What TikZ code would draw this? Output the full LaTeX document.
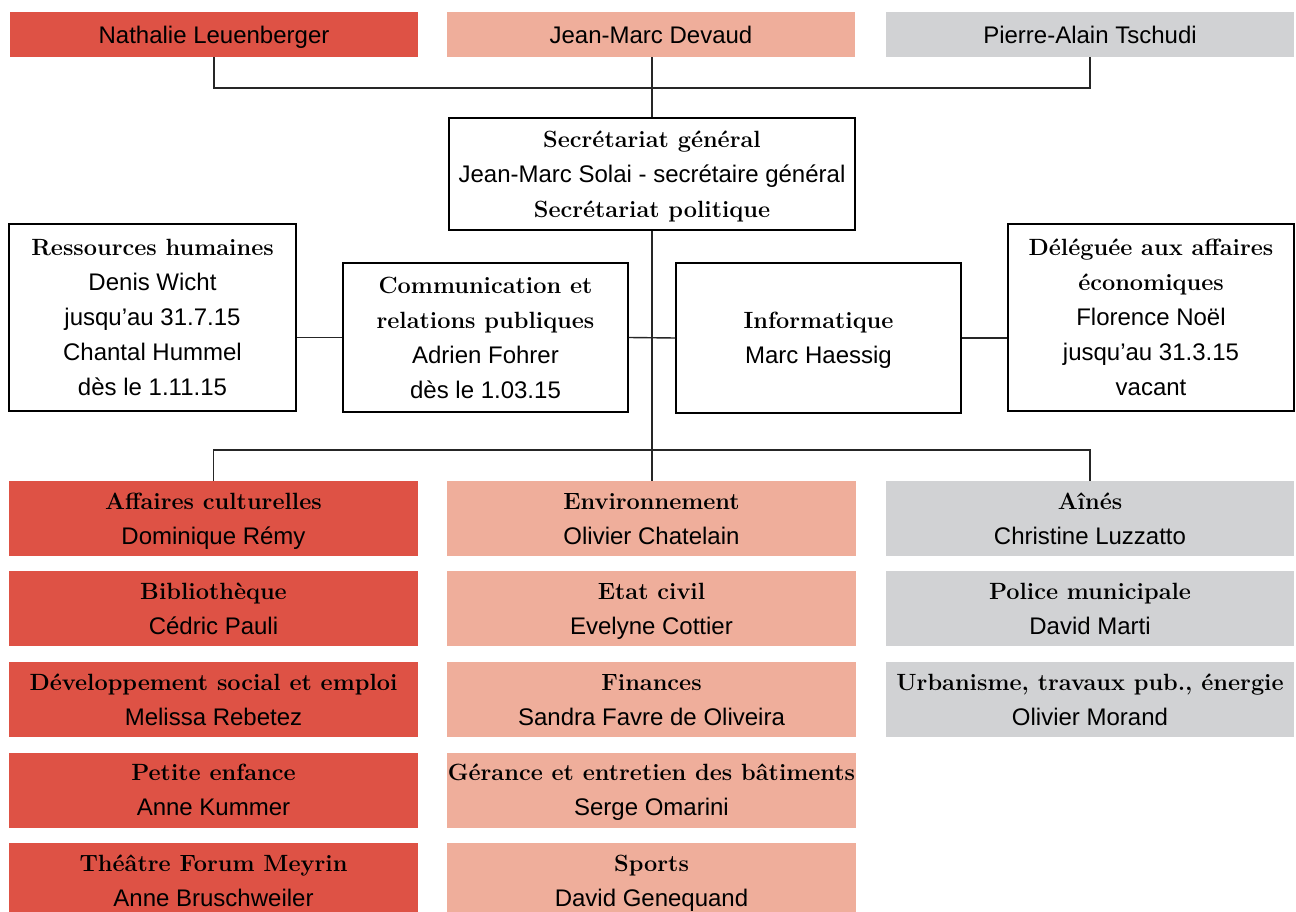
\documentclass[tikz,border=0pt]{standalone}
\usepackage{fontspec}
\setsansfont{Liberation Sans}
\definecolor{cred}{RGB}{222,82,69}
\definecolor{cpink}{RGB}{239,174,155}
\definecolor{cgrey}{RGB}{209,210,212}
\newcommand\boxtitle[1]{{\rmfamily\bfseries\fontsize{23.5}{35}\selectfont #1}}
\tikzset{
  base/.style={align=center, inner sep=0pt, font=\sffamily\fontsize{24}{35}\selectfont, text depth=0pt},
  wbox/.style={base, draw, line width=1.4pt, fill=white},
  rbox/.style={base, fill=cred, minimum width=409pt, minimum height=75pt},
  pbox/.style={base, fill=cpink, minimum width=409pt, minimum height=75pt},
  gbox/.style={base, fill=cgrey, minimum width=408pt, minimum height=75pt},
  conn/.style={line width=1.4pt, black!85}
}
\begin{document}
\begin{tikzpicture}[x=1pt,y=-1pt]
\useasboundingbox[fill=white] (0,0) rectangle (1296,912);
% top row
\node[rbox, minimum width=408pt, minimum height=45pt] (t1) at (214,34.5) {Nathalie Leuenberger};
\node[pbox, minimum width=408pt, minimum height=45pt] (t2) at (651,34.5) {Jean-Marc Devaud};
\node[gbox, minimum width=408pt, minimum height=45pt] (t3) at (1090,34.5) {Pierre-Alain Tschudi};
% secretariat
\node[wbox, minimum width=406pt, minimum height=112pt] (sec) at (652,174) {\boxtitle{Secrétariat général}\\Jean-Marc Solai - secrétaire général\\\boxtitle{Secrétariat politique}};
% staff
\node[wbox, minimum width=287pt, minimum height=187pt] (rh) at (152.5,317.5) {\boxtitle{Ressources humaines}\\Denis Wicht\\jusqu’au 31.7.15\\Chantal Hummel\\dès le 1.11.15};
\node[wbox, minimum width=285pt, minimum height=149pt] (com) at (485.5,337.5) {\boxtitle{Communication et}\\\boxtitle{relations publiques}\\Adrien Fohrer\\dès le 1.03.15};
\node[wbox, minimum width=285pt, minimum height=150pt] (inf) at (818.5,338) {\boxtitle{Informatique}\\Marc Haessig};
\node[wbox, minimum width=286pt, minimum height=187pt] (del) at (1151,317.5) {\boxtitle{Déléguée aux affaires}\\\boxtitle{économiques}\\Florence Noël\\jusqu’au 31.3.15\\vacant};
% departments col 1
\node[rbox] (a1) at (213.5,518.5) {\boxtitle{Affaires culturelles}\\Dominique Rémy};
\node[rbox] (a2) at (213.5,608.5) {\boxtitle{Bibliothèque}\\Cédric Pauli};
\node[rbox] (a3) at (213.5,699.5) {\boxtitle{Développement social et emploi}\\Melissa Rebetez};
\node[rbox] (a4) at (213.5,790) {\boxtitle{Petite enfance}\\Anne Kummer};
\node[rbox] (a5) at (213.5,880.5) {\boxtitle{Théâtre Forum Meyrin}\\Anne Bruschweiler};
% col 2
\node[pbox] (b1) at (651.5,518.5) {\boxtitle{Environnement}\\Olivier Chatelain};
\node[pbox] (b2) at (651.5,608.5) {\boxtitle{Etat civil}\\Evelyne Cottier};
\node[pbox] (b3) at (651.5,699.5) {\boxtitle{Finances}\\Sandra Favre de Oliveira};
\node[pbox] (b4) at (651.5,790) {\boxtitle{Gérance et entretien des bâtiments}\\Serge Omarini};
\node[pbox] (b5) at (651.5,880.5) {\boxtitle{Sports}\\David Genequand};
% col 3
\node[gbox] (c1) at (1090,518.5) {\boxtitle{Aînés}\\Christine Luzzatto};
\node[gbox] (c2) at (1090,608.5) {\boxtitle{Police municipale}\\David Marti};
\node[gbox] (c3) at (1090,699.5) {\boxtitle{Urbanisme, travaux pub., énergie}\\Olivier Morand};
% connectors
\coordinate (hb) at (652,88);
\coordinate (hb2) at (652,450);
\draw[conn] (t1.south) -- (t1.south |- hb) -| (t3.south);
\draw[conn] (sec.north) -- (sec.north |- t2.south);
\draw[conn] (sec.south) -- (sec.south |- b1.north);
\draw[conn] (a1.north) -- (a1.north |- hb2) -| (c1.north);
\draw[conn] (com.west) -- (com.west -| rh.east);
\draw[conn] (com.east) -- (inf.west);
\draw[conn] (inf.east) -- (inf.east -| del.west);
\end{tikzpicture}
\end{document}
